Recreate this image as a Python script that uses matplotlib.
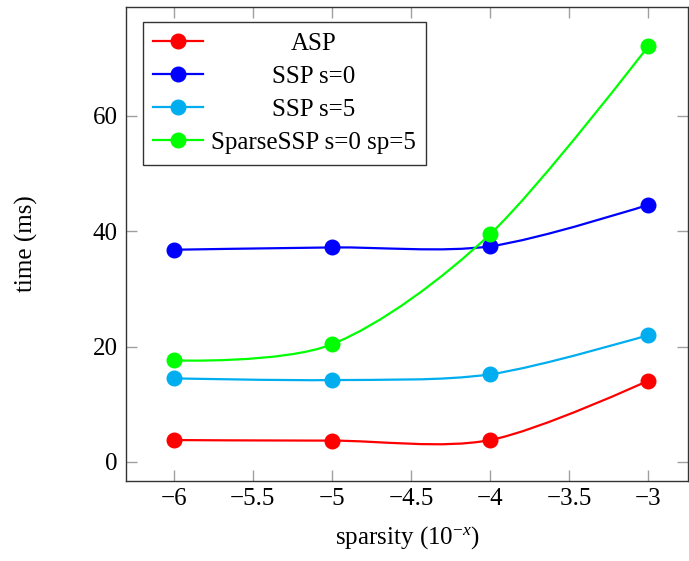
import numpy as np
import matplotlib
matplotlib.use('Agg')
import matplotlib.pyplot as plt
from matplotlib.path import Path
from matplotlib.patches import PathPatch
from matplotlib.ticker import FuncFormatter

plt.rcParams['font.family'] = ['Liberation Serif', 'DejaVu Serif']
plt.rcParams['mathtext.fontset'] = 'custom'
plt.rcParams['mathtext.rm'] = 'Liberation Serif'
plt.rcParams['mathtext.it'] = 'Liberation Serif:italic'
plt.rcParams['font.size'] = 18

# data
sparsity = [-6, -5, -4, -3]
asp = [3.8, 3.7, 3.8, 14.1]
ssp_s0 = [36.8, 37.2, 37.4, 44.6]
ssp_s5 = [14.5, 14.2, 15.2, 22.0]
sparse_ssp = [17.6, 20.4, 39.5, 72.1]

series = [
    ('ASP', asp, '#ff0000'),
    ('SSP s=0', ssp_s0, '#0000ff'),
    ('SSP s=5', ssp_s5, '#00aeef'),
    ('SparseSSP s=0 sp=5', sparse_ssp, '#00ff00'),
]


def smooth_path(x, y, f=0.55 * 0.2775):
    # pgf style smooth curve (bezier through the points)
    p = np.column_stack([x, y]).astype(float)
    n = len(p)
    verts = [p[0]]
    codes = [Path.MOVETO]
    for i in range(n - 1):
        c1 = p[i] if i == 0 else p[i] + f * (p[i + 1] - p[i - 1])
        c2 = p[i + 1] if i == n - 2 else p[i + 1] - f * (p[i + 2] - p[i])
        verts += [c1, c2, p[i + 1]]
        codes += [Path.CURVE4] * 3
    return Path(verts, codes)


fig = plt.figure(figsize=(6.89, 5.61), dpi=100)
ax = fig.add_axes([0.183, 0.1426, 0.8155, 0.845])

for name, vals, c in series:
    ax.add_patch(PathPatch(smooth_path(sparsity, vals), fill=False,
                           edgecolor=c, lw=1.6, zorder=2))
    ax.plot(sparsity, vals, 'o', color=c, ms=10.5, zorder=3)
    ax.plot([], [], '-o', color=c, lw=1.6, ms=10.5, label=name)

ax.set_xlim(-6.3, -2.75)
ax.set_ylim(-3.3, 78.9)
ax.set_xticks([-6, -5.5, -5, -4.5, -4, -3.5, -3])
ax.set_yticks([0, 20, 40, 60])
ax.xaxis.set_major_formatter(FuncFormatter(lambda v, p: ('%g' % v).replace('-', '\u2212')))
ax.tick_params(direction='in', length=8, width=1, color='#a0a0a0',
               top=True, right=True)
ax.tick_params(axis='x', pad=5)
ax.tick_params(axis='y', pad=6)
for s in ax.spines.values():
    s.set_color('#333333')
    s.set_linewidth(1)

ax.set_xlabel('sparsity ($10^{-x}$)', va='center')
ax.set_ylabel('time (ms)', va='center')
ax.xaxis.set_label_coords(0.5, -0.12)
ax.yaxis.set_label_coords(-0.178, 0.5)

leg = ax.legend(loc='upper left', bbox_to_anchor=(0.030, 0.968),
                borderaxespad=0, fancybox=False, framealpha=1,
                edgecolor='#333333', handlelength=2.0, handletextpad=0.3,
                labelspacing=0.42, borderpad=0.42)
leg.get_frame().set_linewidth(1)

# center the legend texts like pgfplots does
fig.canvas.draw()
r = fig.canvas.get_renderer()
texts = leg.get_texts()
ws = [t.get_window_extent(r).width for t in texts]
W = max(ws)
for t, w in zip(texts, ws):
    t.set_position(((W - w) / 2, 0))

fig.savefig('out.png', dpi=100)
